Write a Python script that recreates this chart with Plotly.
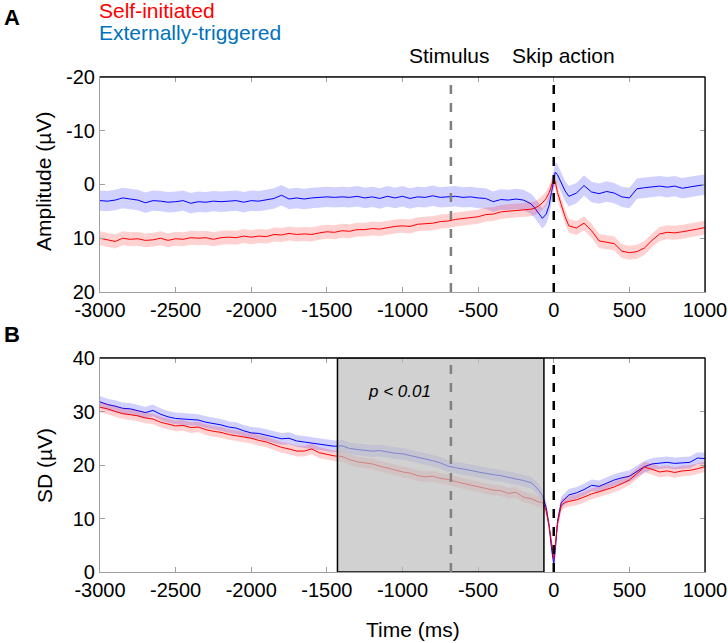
import plotly.graph_objects as go

# ---------------- data ----------------
t_pre = list(range(-3000, -150, 50))            # -3000 ... -200
t_near = [-150, -125, -100, -75, -50, -30, -15, 0, 10, 25, 50, 75, 100, 150]
t_post = list(range(200, 1001, 50))             # 200 ... 1000
time_ms = t_pre + t_near + t_post

# Panel A: amplitude (µV)
amp_self = [
    10.0, 10.3, 10.6, 10.0, 10.2, 10.1, 10.4, 10.3, 10.0, 10.4,
    10.1, 10.2, 9.9, 10.0, 9.9, 10.2, 9.9, 9.8, 9.9, 9.6,
    9.8, 9.6, 9.7, 9.3, 9.4, 9.1, 9.3, 9.2, 9.3, 9.0,
    8.8, 8.9, 8.6, 8.7, 8.4, 8.4, 8.2, 8.3, 8.0, 7.8,
    7.7, 7.8, 7.4, 7.3, 7.2, 6.9, 6.8, 6.5, 6.3, 6.2,
    6.0, 5.6, 5.5, 5.1, 5.0, 4.8, 4.7,
    4.6, 4.4, 4.0, 3.4, 2.6, 1.5, 0.3, -1.0, -0.5, 1.5, 3.8, 6.0, 7.7, 8.1,
    7.2, 8.6, 10.5, 10.7, 11.0, 12.4, 12.7, 12.5, 11.8, 10.4, 9.2, 8.9, 9.0, 8.8, 8.6, 8.3, 8.0,
]
amp_ext = [
    3.0, 3.1, 2.9, 2.5, 2.7, 2.9, 3.4, 3.0, 3.1, 3.3,
    3.2, 3.0, 3.5, 3.2, 3.3, 3.1, 3.2, 3.1, 3.0, 3.3,
    3.0, 3.1, 2.9, 2.6, 2.0, 2.7, 2.5, 2.7, 2.5, 2.4,
    2.3, 2.4, 2.3, 2.4, 2.2, 2.5, 2.3, 2.6, 2.2, 2.5,
    2.2, 2.6, 2.3, 2.4, 2.1, 2.4, 2.3, 2.2, 2.4, 2.3,
    2.5, 2.6, 3.2, 2.8, 2.9, 2.7, 2.9,
    3.6, 4.4, 5.3, 6.3, 5.5, 3.8, 1.5, -1.0, -2.3, -1.8, -0.3, 1.2, 2.2, 1.6,
    0.2, 1.4, 1.7, 1.3, 1.6, 2.3, 2.5, 0.8, 0.6, 0.5, 0.3, 0.5, 0.3, 0.7, 0.5, 0.3, 0.0,
]
amp_self_sem = 1.3
amp_ext_sem = 1.9

# Panel B: SD (µV)
sd_self = [
    30.8, 30.5, 30.0, 29.6, 29.4, 29.2, 28.8, 28.6, 28.0, 27.6,
    27.3, 27.4, 27.0, 27.1, 26.6, 26.3, 26.1, 25.7, 25.5, 25.3,
    25.0, 24.6, 24.3, 23.8, 23.3, 23.0, 22.6, 22.6, 23.0, 22.3,
    22.0, 21.7, 21.6, 21.0, 20.6, 20.4, 20.2, 19.8, 19.4, 19.0,
    18.7, 18.5, 18.0, 17.8, 17.9, 17.5, 17.3, 16.9, 16.6, 16.3,
    15.9, 15.6, 15.3, 15.2, 14.7, 14.9, 14.0,
    13.7, 13.4, 13.1, 13.0, 11.5, 8.5, 5.0, 2.5, 5.0, 9.0, 12.5, 13.0, 13.2, 13.5,
    14.0, 14.6, 15.0, 15.4, 15.9, 16.5, 17.2, 18.4, 19.6, 19.2, 18.7, 18.9, 18.6, 18.9, 19.0, 19.3, 19.7,
]
sd_ext = [
    31.8, 31.3, 31.0, 30.6, 30.5, 30.1, 29.8, 30.2, 29.5, 29.0,
    28.7, 28.6, 28.5, 28.4, 28.0, 27.8, 27.5, 27.1, 26.9, 26.4,
    26.0, 25.9, 25.6, 25.3, 24.9, 25.0, 24.5, 24.3, 24.1, 23.9,
    23.6, 23.5, 23.6, 23.1, 22.9, 22.8, 22.6, 22.7, 22.4, 22.2,
    22.1, 21.8, 21.5, 21.1, 20.8, 20.4, 19.8, 19.5, 19.3, 19.0,
    18.7, 18.4, 18.2, 18.0, 17.7, 17.5, 17.1,
    16.7, 16.1, 15.3, 14.3, 12.0, 8.5, 4.5, 1.5, 4.0, 9.5, 13.0, 13.8, 14.4, 14.8,
    15.4, 16.2, 16.0, 16.6, 17.2, 17.6, 17.9, 18.8, 19.7, 20.2, 20.4, 20.5, 20.3, 20.4, 20.5, 21.3, 21.2,
]
sd_self_sem = 1.0
sd_ext_sem = 1.1

x_ticks = [-3000, -2500, -2000, -1500, -1000, -500, 0, 500, 1000]
x_tick_labels = ["-3000", "-2500", "-2000", "-1500", "-1000", "-500", "0", "500", "1000"]
amp_ticks = [-20, -10, 0, 10, 20]
amp_tick_labels = ["-20", "-10", "0", "10", "20"]
sd_ticks = [0, 10, 20, 30, 40]
sd_tick_labels = ["0", "10", "20", "30", "40"]
stimulus_ms = -680
action_ms = 0
sig_window = [-1430, -65]

RED = "#ff0000"
BLUE = "#0000ff"
RED_F = "rgba(255,0,0,0.18)"
BLUE_F = "rgba(0,0,255,0.18)"
FONT = "Liberation Sans, Arial, sans-serif"

fig = go.Figure()


def add_band(x, y, sem, line_col, fill_col, xa, ya):
    up = [v + sem for v in y]
    lo = [v - sem for v in y]
    fig.add_trace(go.Scatter(x=x, y=up, mode="lines", line=dict(width=0),
                             showlegend=False, hoverinfo="skip", xaxis=xa, yaxis=ya))
    fig.add_trace(go.Scatter(x=x, y=lo, mode="lines", line=dict(width=0), fill="tonexty",
                             fillcolor=fill_col, showlegend=False, hoverinfo="skip",
                             xaxis=xa, yaxis=ya))
    fig.add_trace(go.Scatter(x=x, y=y, mode="lines", line=dict(color=line_col, width=1),
                             showlegend=False, xaxis=xa, yaxis=ya))


add_band(time_ms, amp_ext, amp_ext_sem, BLUE, BLUE_F, "x", "y")
add_band(time_ms, amp_self, amp_self_sem, RED, RED_F, "x", "y")
add_band(time_ms, sd_ext, sd_ext_sem, BLUE, BLUE_F, "x2", "y2")
add_band(time_ms, sd_self, sd_self_sem, RED, RED_F, "x2", "y2")

AX_COL = "#a0a0a0"
common_x = dict(range=[-3000, 1000], tickvals=x_ticks, ticktext=x_tick_labels,
                ticks="inside", ticklen=5, automargin=False,
                tickcolor=AX_COL, showline=True, linecolor=AX_COL, linewidth=1.2,
                mirror="allticks", showgrid=False, zeroline=False,
                tickfont=dict(family=FONT, size=20, color="black"))
common_y = dict(ticks="inside", ticklen=5, tickcolor=AX_COL, showline=True, automargin=False,
                linecolor=AX_COL, linewidth=1.2, mirror="allticks", showgrid=False,
                zeroline=False, tickfont=dict(family=FONT, size=20, color="black"))

top_dom = [0.5657, 1.0]
bot_dom = [0.0, 0.4323]

fig.update_layout(
    width=728, height=643,
    margin=dict(l=100, r=23, t=77, b=71, autoexpand=False),
    plot_bgcolor="white", paper_bgcolor="white",
    showlegend=False,
    xaxis=dict(domain=[0, 1], anchor="y", **common_x),
    yaxis=dict(domain=top_dom, anchor="x", range=[20, -20], tickvals=amp_ticks,
               ticktext=amp_tick_labels, **common_y),
    xaxis2=dict(domain=[0, 1], anchor="y2", **common_x),
    yaxis2=dict(domain=bot_dom, anchor="x2", range=[0, 40], tickvals=sd_ticks,
                ticktext=sd_tick_labels, **common_y),
)

shapes = []
# significance window (drawn above, semi-transparent grey)
shapes.append(dict(type="rect", xref="x2", yref="y2", x0=sig_window[0], x1=sig_window[1],
                   y0=0, y1=40, fillcolor="rgba(189,189,189,0.69)",
                   line=dict(color="black", width=1.5), layer="above"))
for xa, ya in [("x", "y"), ("x2", "y2")]:
    shapes.append(dict(type="line", xref=xa, yref=f"{ya} domain", x0=stimulus_ms, x1=stimulus_ms,
                       y0=0, y1=1, line=dict(color="#808080", width=2.5, dash="dash"), layer="above"))
    shapes.append(dict(type="line", xref=xa, yref=f"{ya} domain", x0=action_ms, x1=action_ms,
                       y0=0, y1=1, line=dict(color="black", width=2.5, dash="dash"), layer="above"))
    # dark top and right frame lines
    shapes.append(dict(type="line", xref=f"{xa} domain", yref=f"{ya} domain", x0=0, x1=1,
                       y0=1, y1=1, line=dict(color="#111", width=1.4), layer="above"))
    shapes.append(dict(type="line", xref=f"{xa} domain", yref=f"{ya} domain", x0=1, x1=1,
                       y0=0, y1=1, line=dict(color="#111", width=1.4), layer="above"))
fig.update_layout(shapes=shapes)

ann = []


def add_text(text, x, y, size=21, color="black", xanchor="center", xref="paper", yref="paper",
             angle=0, bold=False, italic=False):
    t = text
    if bold:
        t = f"<b>{t}</b>"
    if italic:
        t = f"<i>{t}</i>"
    ann.append(dict(text=t, x=x, y=y, xref=xref, yref=yref, xanchor=xanchor, yanchor="middle",
                    showarrow=False, textangle=angle,
                    font=dict(family=FONT, size=size, color=color)))


add_text("A", -0.162, 1.121, size=22, xanchor="left", bold=True)
add_text("B", -0.162, 0.479, size=22, xanchor="left", bold=True)
add_text("Self-initiated", -0.005, 1.135, size=21, color="#ff0000", xanchor="left")
add_text("Externally-triggered", -0.005, 1.089, size=21, color="#0072bd", xanchor="left")
add_text("Stimulus", 0.5785, 1.044, size=21)
add_text("Skip action", 0.7653, 1.044, size=21)
add_text("p < 0.01", -1020, 33.8, size=17, xref="x2", yref="y2", italic=True)
add_text("Time (ms)", 0.517, -0.117, size=21)
add_text("Amplitude (µV)", -0.0926, 0.79, size=21, angle=-90)
add_text("SD (µV)", -0.0926, 0.216, size=21, angle=-90)
fig.update_layout(annotations=ann)

fig.write_html("out.html", config={"displayModeBar": False},
               post_script="document.body.style.margin='0px';")
